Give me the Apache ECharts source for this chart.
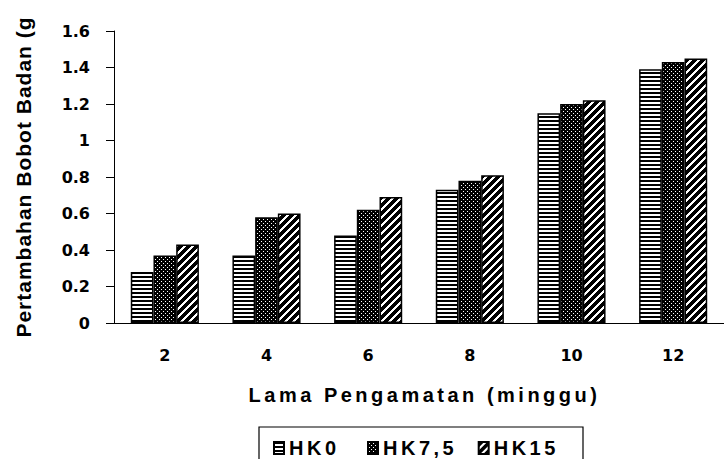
<!DOCTYPE html>
<html><head><meta charset="utf-8">
<script src="https://cdn.jsdelivr.net/npm/echarts@6/dist/echarts.min.js"></script>
<style>
html,body{margin:0;padding:0;background:#fff;}
#c{width:724px;height:459px;}
#c text[style*="font-size: 20px"]{letter-spacing:3.5px;}
#c text[style*="font-size: 21px"]{letter-spacing:1px;}
</style></head><body><div id="c"></div>
<script>
const categories = ['2', '4', '6', '8', '10', '12'];
const seriesNames = ['HK0', 'HK7,5', 'HK15'];
const hk0 = [0.28, 0.37, 0.48, 0.73, 1.15, 1.39];
const hk75 = [0.37, 0.58, 0.62, 0.78, 1.20, 1.43];
const hk15 = [0.43, 0.60, 0.69, 0.81, 1.22, 1.45];
const yMin = 0, yMax = 1.6, yInterval = 0.2;
const xTitle = 'Lama Pengamatan (minggu)';
const yTitle = 'Pertambahan Bobot Badan (g';

function makeTile(w, h, isBlack) {
  const c = document.createElement('canvas');
  c.width = w; c.height = h;
  const ctx = c.getContext('2d');
  const img = ctx.createImageData(w, h);
  for (let y = 0; y < h; y++) for (let x = 0; x < w; x++) {
    const i = (y * w + x) * 4;
    const v = isBlack(x, y) ? 0 : 255;
    img.data[i] = v; img.data[i + 1] = v; img.data[i + 2] = v; img.data[i + 3] = 255;
  }
  ctx.putImageData(img, 0, 0);
  return { type: 'pattern', image: c, repeat: 'repeat', imageWidth: w, imageHeight: h };
}
const patStripes = makeTile(4, 4, (x, y) => y < 2);
const patDots = makeTile(4, 4, (x, y) => !((x === 1 && y === 1) || (x === 3 && y === 3)));
const patDiag = makeTile(8, 8, (x, y) => ((x + y) % 8) < 5);
const patterns = [patStripes, patDots, patDiag];
const values = [hk0, hk75, hk15];

const FONT = '"Liberation Sans", Arial, sans-serif';
const TICKFONT = '"DejaVu Sans", sans-serif';
const chart = echarts.init(document.getElementById('c'), null, { renderer: 'svg' });
chart.setOption({
  animation: false,
  backgroundColor: '#fff',
  grid: { left: 114, right: -8, top: 31, bottom: 136 },
  xAxis: {
    type: 'category', data: categories,
    axisLine: { lineStyle: { color: '#000', width: 1 } },
    axisTick: { length: 8, lineStyle: { color: '#000' } },
    axisLabel: { color: '#000', fontSize: 16, fontWeight: 'bold', fontFamily: TICKFONT, margin: 24 },
    name: xTitle, nameLocation: 'middle', nameGap: 62,
    nameTextStyle: { color: '#000', fontSize: 20, fontWeight: 'bold', fontFamily: FONT, padding: [0, 0, 0, 11] }
  },
  yAxis: {
    type: 'value', min: yMin, max: yMax, interval: yInterval,
    axisLine: { show: true, lineStyle: { color: '#000', width: 1 } },
    axisTick: { show: true, length: 8, lineStyle: { color: '#000' } },
    splitLine: { show: false },
    axisLabel: { color: '#000', fontSize: 16, fontWeight: 'bold', fontFamily: TICKFONT, margin: 24 },
    name: yTitle, nameLocation: 'middle', nameGap: 80,
    nameTextStyle: { color: '#000', fontSize: 21, fontWeight: 'bold', fontFamily: FONT }
  },
  legend: {
    left: 268, top: 433, itemGap: 38, itemWidth: 10, itemHeight: 12,
    icon: 'rect',
    textStyle: { color: '#000', fontSize: 20, fontWeight: 'bold', fontFamily: FONT },
    data: seriesNames
  },
  graphic: [{
    type: 'rect', shape: { x: 259, y: 427, width: 324, height: 60 },
    style: { fill: 'none', stroke: '#000', lineWidth: 1.2 }, silent: true
  }],
  series: seriesNames.map((n, i) => ({
    name: n, type: 'bar', data: values[i],
    barGap: '0%', barCategoryGap: '33%',
    itemStyle: { color: patterns[i], borderColor: '#000', borderWidth: 1.5 },
    emphasis: { disabled: true }
  }))
});
</script></body></html>
